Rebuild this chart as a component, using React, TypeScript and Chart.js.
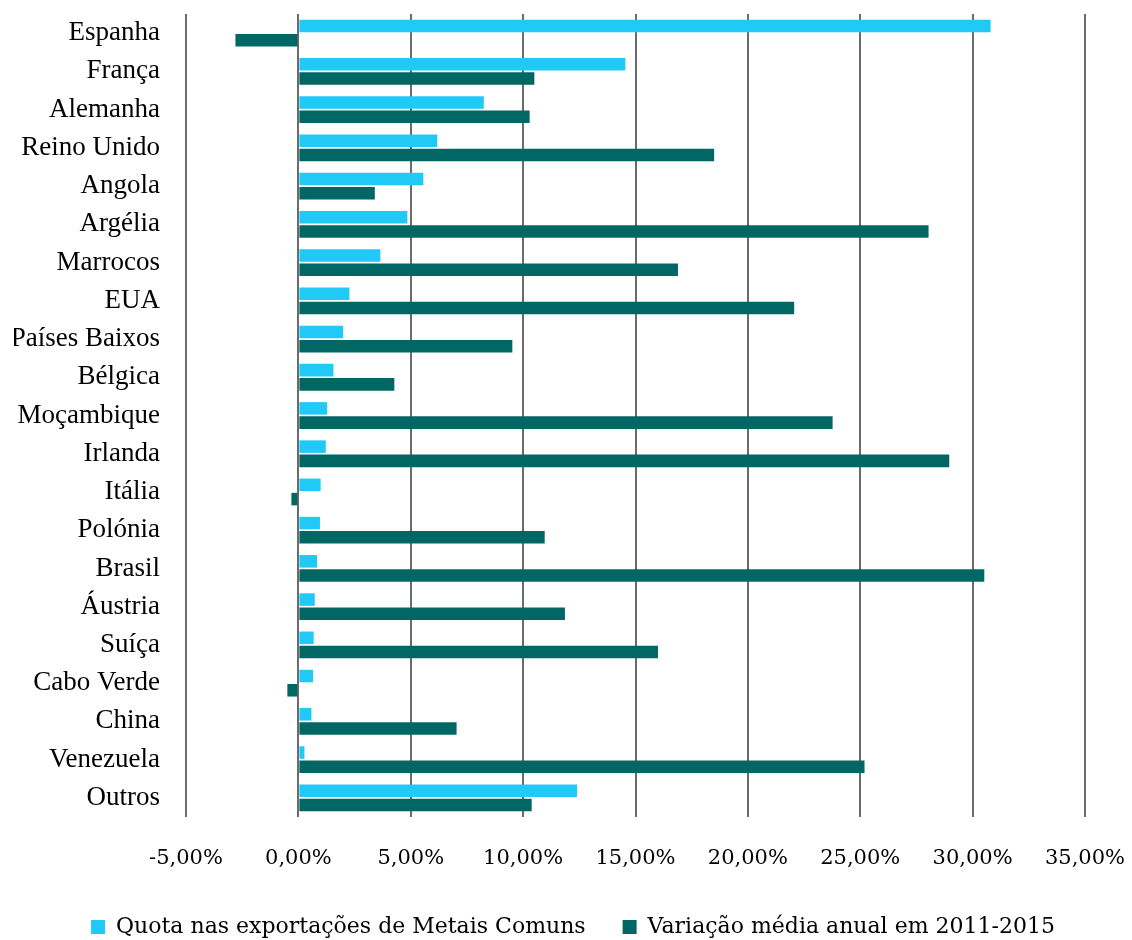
import React, { useEffect, useRef } from "react";
import { Chart, registerables } from "chart.js";

Chart.register(...registerables);

const categories = [
  "Espanha", "França", "Alemanha", "Reino Unido", "Angola", "Argélia", "Marrocos", "EUA",
  "Países Baixos", "Bélgica", "Moçambique", "Irlanda", "Itália", "Polónia", "Brasil",
  "Áustria", "Suíça", "Cabo Verde", "China", "Venezuela", "Outros",
];

const quota = [
  30.8, 14.55, 8.25, 6.18, 5.56, 4.85, 3.65, 2.27, 1.99, 1.56, 1.28, 1.22, 0.99, 0.96, 0.83,
  0.73, 0.68, 0.65, 0.58, 0.27, 12.4,
];

const variacao = [
  -2.8, 10.5, 10.29, 18.5, 3.4, 28.04, 16.89, 22.06, 9.52, 4.27, 23.77, 28.96, -0.31, 10.96,
  30.52, 11.86, 16.0, -0.49, 7.04, 25.19, 10.38,
];

const seriesNames = [
  "Quota nas exportações de Metais Comuns",
  "Variação média anual em 2011-2015",
];

const xMin = -5;
const xMax = 35;
const xStep = 5;

export default function App() {
  const ref = useRef<HTMLCanvasElement | null>(null);

  useEffect(() => {
    if (!ref.current) return;
    const chart = new Chart(ref.current, {
      type: "bar",
      data: {
        labels: categories,
        datasets: [
          {
            label: seriesNames[0],
            data: quota,
            backgroundColor: "#21C9F7",
            borderWidth: 0,
            categoryPercentage: 0.745,
            barPercentage: 0.88,
          },
          {
            label: seriesNames[1],
            data: variacao,
            backgroundColor: "#006765",
            borderWidth: 0,
            categoryPercentage: 0.745,
            barPercentage: 0.88,
          },
        ],
      },
      options: {
        indexAxis: "y",
        animation: false,
        responsive: false,
        maintainAspectRatio: false,
        layout: { padding: { top: 14, right: 0, bottom: -8, left: 14 } },
        plugins: {
          tooltip: { enabled: false },
          legend: {
            position: "bottom",
            labels: {
              color: "#000",
              font: { family: "DejaVu Serif", size: 22 },
              boxWidth: 14,
              boxHeight: 14,
              padding: 37,
            },
          },
        },
        scales: {
          x: {
            min: xMin,
            max: xMax,
            ticks: {
              stepSize: xStep,
              color: "#000",
              padding: 29,
              font: { family: "DejaVu Serif", size: 21 },
              maxRotation: 0,
              autoSkip: false,
              callback: (v: any) => Number(v).toFixed(2).replace(".", ",") + "%",
            },
            grid: { color: "#6b6b6b", lineWidth: 2, drawTicks: false },
            border: { display: false },
            afterFit: (scale: any) => {
              scale.paddingLeft = 0;
              scale.paddingRight = 47;
              scale.height = 62;
            },
          },
          y: {
            ticks: {
              color: "#000",
              padding: 26,
              autoSkip: false,
              font: { family: "Liberation Serif", size: 27 },
            },
            grid: { display: false, drawTicks: false },
            border: { display: false },
            afterFit: (scale: any) => {
              scale.width = 172;
              scale.paddingTop = 0;
              scale.paddingBottom = 0;
            },
          },
        },
      },
    });
    return () => chart.destroy();
  }, []);

  return (
    <canvas
      ref={ref}
      width={1132}
      height={940}
      style={{ display: "block", position: "fixed", left: 0, top: 0 }}
    />
  );
}
